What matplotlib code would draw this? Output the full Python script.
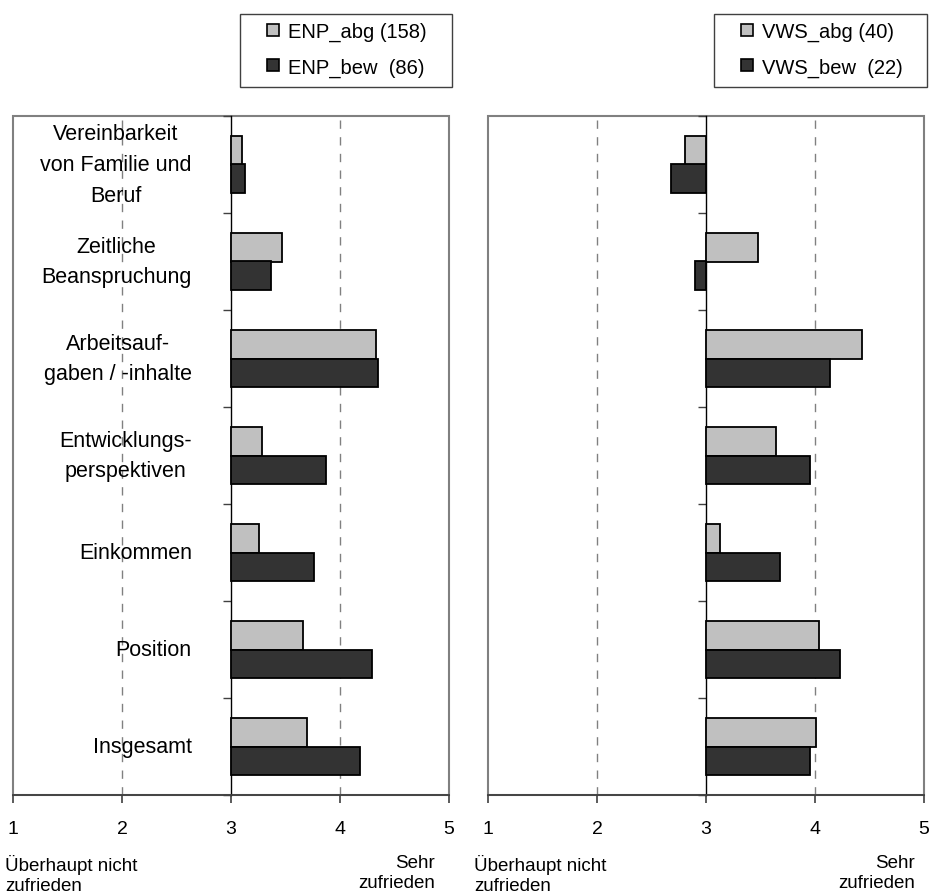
import numpy as np
import matplotlib.pyplot as plt
from matplotlib.patches import Rectangle
from matplotlib.lines import Line2D

plt.rcParams['font.family'] = ['Liberation Sans', 'DejaVu Sans']

categories = ['Vereinbarkeit\nvon Familie und\nBeruf',
              'Zeitliche\nBeanspruchung',
              'Arbeitsauf-\ngaben / -inhalte',
              'Entwicklungs-\nperspektiven',
              'Einkommen',
              'Position',
              'Insgesamt']

enp_abg = [3.10, 3.47, 4.33, 3.28, 3.26, 3.66, 3.70]
enp_bew = [3.13, 3.37, 4.35, 3.87, 3.76, 4.29, 4.18]
vws_abg = [2.81, 3.48, 4.43, 3.64, 3.13, 4.04, 4.01]
vws_bew = [2.68, 2.90, 4.14, 3.95, 3.68, 4.23, 3.95]

enp_labels = ['ENP_abg (158)', 'ENP_bew  (86)']
vws_labels = ['VWS_abg (40)', 'VWS_bew  (22)']

xticks = [1, 2, 3, 4, 5]
base = 3
light = '#c0c0c0'
dark = '#333333'
frame_col = '#808080'

fig = plt.figure(figsize=(9.3, 8.95), dpi=100)
W, H = 930, 895


def px(x0, y0, x1, y1):
    # pixel box (top-left origin) -> figure fraction rect
    return [x0 / W, 1 - y1 / H, (x1 - x0) / W, (y1 - y0) / H]


def panel(rect, abg, bew, labels, leg_box, show_cats):
    ax = fig.add_axes(rect)
    n = len(categories)
    y = np.arange(n)[::-1]
    h = 0.29
    ax.barh(y + h / 2, np.array(abg) - base, left=base, height=h,
            color=light, edgecolor='black', lw=1.3, zorder=3)
    ax.barh(y - h / 2, np.array(bew) - base, left=base, height=h,
            color=dark, edgecolor='black', lw=1.3, zorder=3)

    ax.set_xlim(1, 5)
    ax.set_ylim(-0.5, n - 0.5)

    # grey frame, black axis line at 3
    for s in ['top', 'right']:
        ax.spines[s].set_visible(False)
    ax.spines['left'].set_position(('data', base))
    ax.spines['left'].set_color('black')
    ax.spines['left'].set_linewidth(1.0)
    ax.spines['bottom'].set_color('#404040')
    ax.spines['bottom'].set_linewidth(1.3)
    ax.add_patch(Rectangle((0, 0), 1, 1, transform=ax.transAxes, fill=False,
                           edgecolor=frame_col, lw=1.5, zorder=0, clip_on=False))

    for g in [2, 4]:
        ax.axvline(g, color=frame_col, lw=1.0, ls=(0, (6, 6)), zorder=1)

    ax.set_yticks(np.arange(-0.5, n, 1.0))
    ax.set_yticklabels([])
    ax.tick_params(axis='y', direction='out', length=6, width=1, color='#404040')
    ax.set_xticks(xticks)
    ax.set_xticklabels([str(t) for t in xticks], fontsize=14)
    ax.tick_params(axis='x', direction='out', length=6, width=1.2,
                   color='#404040', pad=12)

    if show_cats:
        for yi, c in zip(y, categories):
            ax.text(base - 0.36, yi, c, ha='right', va='center',
                    multialignment='center', fontsize=15.5, linespacing=1.6)

    # legend: box drawn separately so its padding can match the original
    bx0, by0, bx1, by1 = leg_box
    fig.add_artist(Rectangle((bx0 / W, 1 - by1 / H), (bx1 - bx0) / W,
                             (by1 - by0) / H, transform=fig.transFigure,
                             fill=False, edgecolor='#404040', lw=1.0))
    handles = [Line2D([], [], ls='', marker='s', markersize=9,
                      markerfacecolor=col, markeredgecolor='black', mew=1.2)
               for col in (light, dark)]
    ax.legend(handles=handles, labels=labels, loc='upper left',
              bbox_to_anchor=((bx0 + 27) / W, 1 - (by0 + 8) / H),
              bbox_transform=fig.transFigure, fontsize=14.5,
              frameon=False, handlelength=0.6, handletextpad=0.45,
              labelspacing=0.8, borderpad=0, borderaxespad=0)
    return ax


panel(px(13, 117, 449, 796), enp_abg, enp_bew, enp_labels,
      (240, 15, 452, 88), True)
panel(px(488, 117, 924, 796), vws_abg, vws_bew, vws_labels,
      (714, 15, 927, 88), False)

for x0, x1 in [(5, 435), (474, 915)]:
    fig.text(x0 / W, 1 - 855 / H, 'Überhaupt nicht\nzufrieden', ha='left',
             va='top', fontsize=13.5, linespacing=1.2)
    fig.text(x1 / W, 1 - 855 / H, 'Sehr\nzufrieden', ha='right', va='top',
             fontsize=13.5, linespacing=1.2, multialignment='right')

fig.savefig('out.png', dpi=100)
